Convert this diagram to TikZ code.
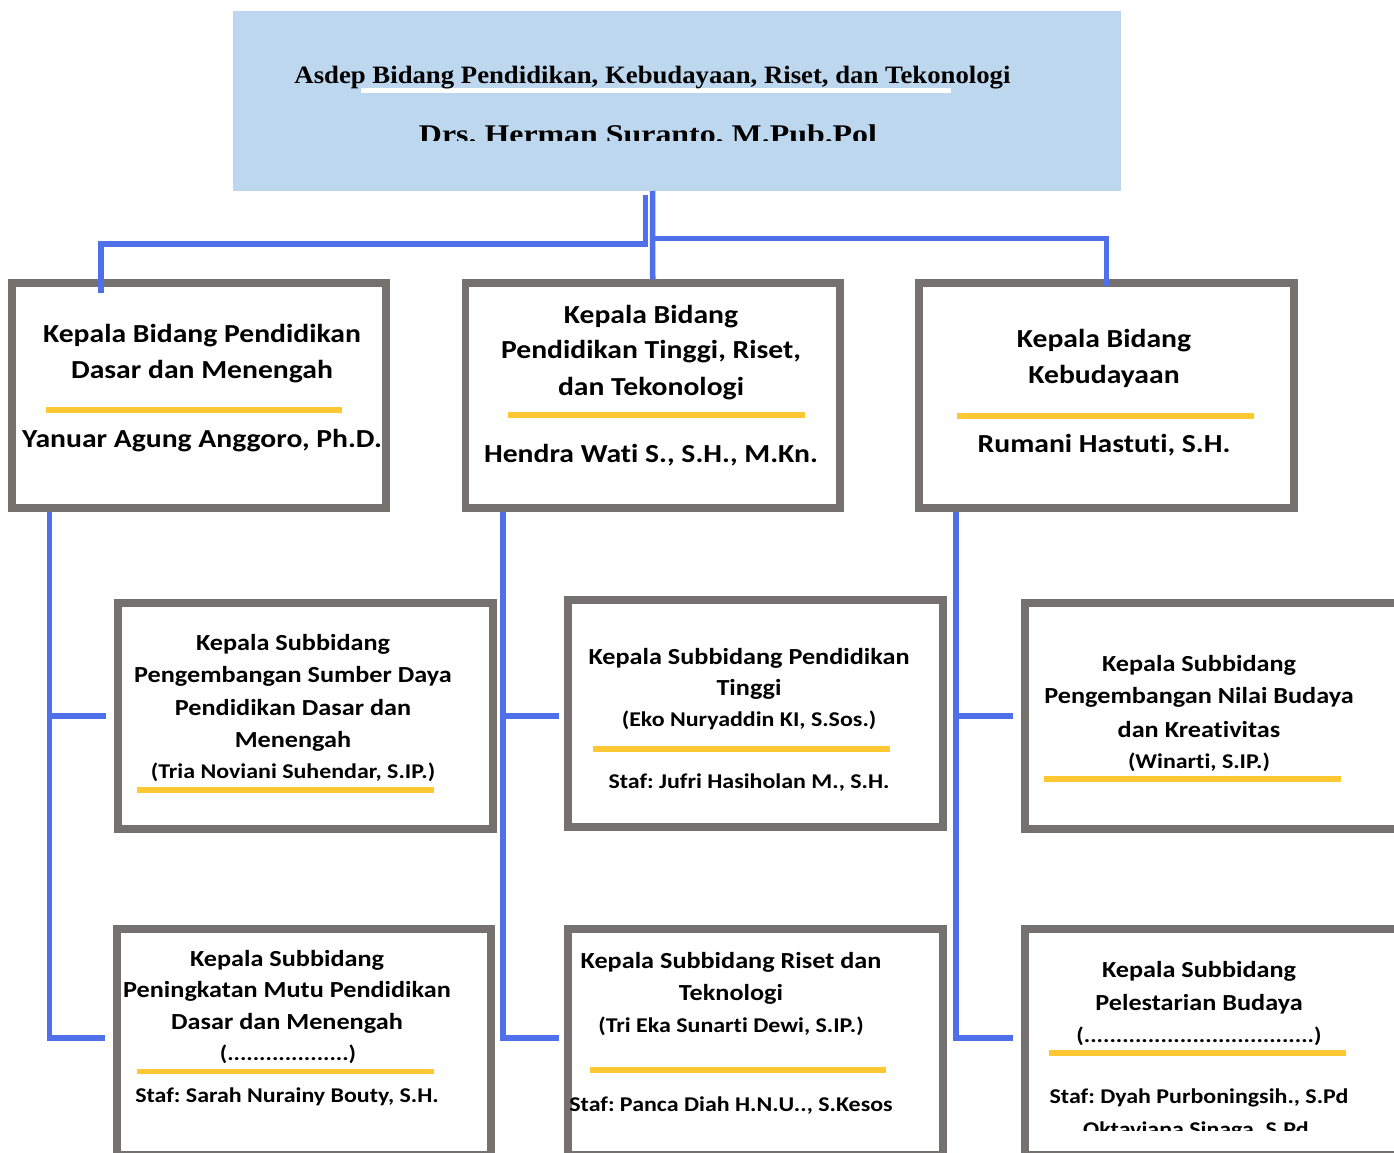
\documentclass[tikz,border=0pt]{standalone}
\usepackage{fontspec}
\usepackage{graphicx}
\setmainfont{Carlito}[FakeStretch=1.14, Ligatures=NoCommon]
\newfontfamily\titlefont{Liberation Serif}
\frenchspacing
\definecolor{boxgray}{HTML}{767171}
\definecolor{connblue}{HTML}{4F6FEB}
\definecolor{lineyellow}{HTML}{FFC832}
\definecolor{topfill}{HTML}{BDD7EE}
\tikzset{
  box/.style={draw=boxgray, line width=7.5pt, fill=white, inner sep=0pt, outer sep=0pt, rectangle},
  topbox/.style={fill=topfill, inner sep=0pt, outer sep=0pt, rectangle},
  conn/.style={draw=connblue, line width=5.5pt, line join=miter},
  yline/.style={draw=lineyellow, line width=5.5pt},
  wline/.style={draw=white, line width=5pt},
  big/.style={font=\bfseries\fontsize{26}{30}\selectfont, anchor=base, inner sep=0pt},
  mid/.style={font=\bfseries\fontsize{23}{27}\selectfont, anchor=base, inner sep=0pt},
  small/.style={font=\bfseries\fontsize{21}{25}\selectfont, anchor=base, inner sep=0pt},
  ttl/.style={font=\titlefont\bfseries\fontsize{25}{29}\selectfont, anchor=base, inner sep=0pt},
  ttlb/.style={font=\titlefont\bfseries\fontsize{27}{31}\selectfont, anchor=base, inner sep=0pt}
}
\begin{document}
\begin{tikzpicture}[x=1pt,y=-1pt]
\path[use as bounding box] (0,0) rectangle (1394,1153);
\clip (0,0) rectangle (1394,1153);
\fill[white] (0,0) rectangle (1394,1153);

% top box
\node[topbox, minimum width=888pt, minimum height=180pt] (top) at (677,101) {};
\draw[wline] (361,91) -- (951,91);
\node[ttl] (ttl1) at (652.5,83.5) {\resizebox{716pt}{\height}{Asdep Bidang Pendidikan, Kebudayaan, Riset, dan Tekonologi}};
\begin{scope}
\clip (233,100) rectangle (1121,140);
\node[ttlb] (ttl2) at (648,143) {\resizebox{458pt}{\height}{Drs. Herman Suranto, M.Pub.Pol}};
\end{scope}

% level 1 boxes
\node[box, minimum width=374pt, minimum height=225pt] (b1) at (199,395.5) {};
\node[box, minimum width=374.5pt, minimum height=225pt] (b2) at (652.75,395.5) {};
\node[box, minimum width=375pt, minimum height=225pt] (b3) at (1106.5,395.5) {};

% level 2 boxes
\node[box, minimum width=375pt, minimum height=226pt] (ab1) at (305.5,716) {};
\node[box, minimum width=375pt, minimum height=227pt] (ab2) at (755.5,713.5) {};
\node[box, minimum width=375pt, minimum height=226pt] (ab3) at (1212.5,716) {};
\node[box, minimum width=374pt, minimum height=226pt] (bb1) at (304,1042) {};
\node[box, minimum width=375pt, minimum height=226pt] (bb2) at (755.5,1042) {};
\node[box, minimum width=375pt, minimum height=226pt] (bb3) at (1212.5,1042) {};

% connectors from top
\draw[conn] ([xshift=-31.5pt,yshift=-4pt]top.south) -- ++(0,49) -| ([xshift=-98pt,yshift=-10pt]b1.north);
\draw[conn] ([xshift=-24.5pt]top.south) -- ([yshift=3.75pt]b2.north);
\draw[conn] ([xshift=-24.5pt,yshift=-47.5pt]top.south) -| ([yshift=-3pt]b3.north);

% vertical spines
\coordinate (v1) at ([xshift=-149.5pt,yshift=-3.75pt]b1.south);
\coordinate (v2) at ([xshift=-149.75pt,yshift=-3.75pt]b2.south);
\coordinate (v3) at ([xshift=-150.5pt,yshift=-3.75pt]b3.south);
\coordinate (e1) at ([xshift=-12pt,yshift=4pt]bb1.west);
\coordinate (e2) at ([xshift=-9pt,yshift=4pt]bb2.west);
\coordinate (e3) at ([xshift=-12pt,yshift=4pt]bb3.west);
\draw[conn] (v1) |- (e1);
\draw[conn] (v2) |- (e2);
\draw[conn] (v3) |- (e3);
\draw[conn] (v1 |- ab1.west) -- ([xshift=-12pt]ab1.west);
\draw[conn] (v2 |- ab1.west) -- ([xshift=-9pt,yshift=-2.5pt]ab2.west);
\draw[conn] (v3 |- ab3.west) -- ([xshift=-12pt]ab3.west);

% box 1 text
\node[big] (b1t1) at (202,342) {Kepala Bidang Pendidikan};
\node[big] (b1t2) at (202,378) {Dasar dan Menengah};
\draw[yline] (46,410) -- (342,410);
\node[big] (b1t3) at (202,447) {Yanuar Agung Anggoro, Ph.D.};

% box 2 text
\node[big] (b2t1) at (651,323) {Kepala Bidang};
\node[big] (b2t2) at (651,358.5) {Pendidikan Tinggi, Riset,};
\node[big] (b2t3) at (651,395) {dan Tekonologi};
\draw[yline] (508,415) -- (805,415);
\node[big] (b2t4) at (651,462) {Hendra Wati S., S.H., M.Kn.};

% box 3 text
\node[big] (b3t1) at (1104,347) {Kepala Bidang};
\node[big] (b3t2) at (1104,383) {Kebudayaan};
\draw[yline] (957,416) -- (1254,416);
\node[big] (b3t3) at (1104,452) {Rumani Hastuti, S.H.};

% ab1 text
\node[mid] (a1t1) at (293,650) {Kepala Subbidang};
\node[mid] (a1t2) at (293,682) {Pengembangan Sumber Daya};
\node[mid] (a1t3) at (293,715) {Pendidikan Dasar dan};
\node[mid] (a1t4) at (293,747) {Menengah};
\node[small] (a1t5) at (293,778) {(Tria Noviani Suhendar, S.IP.)};
\draw[yline] (137,790) -- (434,790);

% ab2 text
\node[mid] (a2t1) at (749,664) {Kepala Subbidang Pendidikan};
\node[mid] (a2t2) at (749,695) {Tinggi};
\node[small] (a2t3) at (749,726) {(Eko Nuryaddin KI, S.Sos.)};
\draw[yline] (593,749) -- (890,749);
\node[small] (a2t4) at (749,788) {Staf: Jufri Hasiholan M., S.H.};

% ab3 text
\node[mid] (a3t1) at (1199,671) {Kepala Subbidang};
\node[mid] (a3t2) at (1199,703) {Pengembangan Nilai Budaya};
\node[mid] (a3t3) at (1199,737) {dan Kreativitas};
\node[small] (a3t4) at (1199,768) {(Winarti, S.IP.)};
\draw[yline] (1044,779) -- (1341,779);

% bb1 text
\node[mid] (c1t1) at (287,966) {Kepala Subbidang};
\node[mid] (c1t2) at (287,997) {Peningkatan Mutu Pendidikan};
\node[mid] (c1t3) at (287,1029) {Dasar dan Menengah};
\node[small] (c1t4) at (288,1060) {(...................)};
\draw[yline] (137,1071.5) -- (434,1071.5);
\node[small] (c1t5) at (287,1102) {Staf: Sarah Nurainy Bouty, S.H.};

% bb2 text
\node[mid] (c2t1) at (731,968) {Kepala Subbidang Riset dan};
\node[mid] (c2t2) at (731,1000) {Teknologi};
\node[small] (c2t3) at (731,1032) {(Tri Eka Sunarti Dewi, S.IP.)};
\draw[yline] (590,1070) -- (886,1070);
\node[small] (c2t4) at (731,1111) {Staf: Panca Diah H.N.U.., S.Kesos};

% bb3 text
\node[mid] (c3t1) at (1199,977) {Kepala Subbidang};
\node[mid] (c3t2) at (1199,1010) {Pelestarian Budaya};
\node[small] (c3t3) at (1199,1042) {(....................................)};
\draw[yline] (1049,1053) -- (1346,1053);
\node[small] (c3t4) at (1199,1103) {Staf: Dyah Purboningsih., S.Pd};
\begin{scope}
\clip (1030,1110) rectangle (1394,1130);
\node[small] (c3t5) at (1199,1136) {Oktaviana Sinaga, S.Pd.};
\end{scope}
\end{tikzpicture}
\end{document}
